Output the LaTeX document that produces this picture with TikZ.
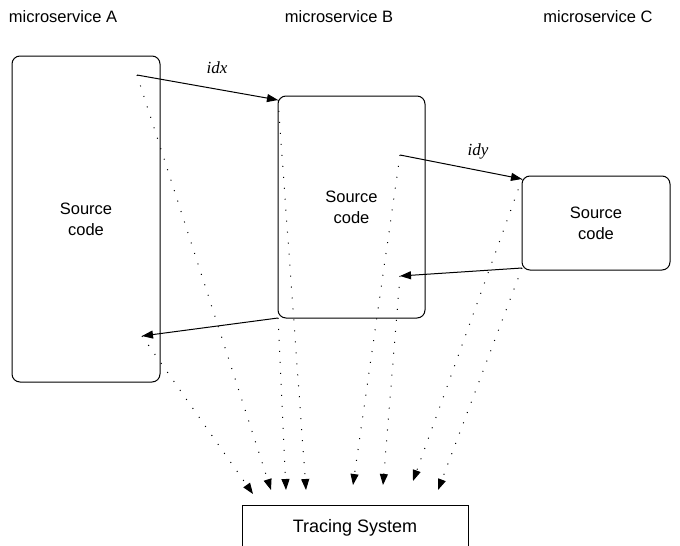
\documentclass[tikz,border=0pt]{standalone}
\usepackage{fontspec}
\setmainfont{Liberation Sans}
\newfontfamily\serifit{Liberation Serif}
\usetikzlibrary{arrows.meta}
\begin{document}
\begin{tikzpicture}[x=1pt,y=-1pt,
  svc/.style={draw,line width=1pt,rounded corners=8pt,inner sep=0pt,align=center,font=\fontsize{16.5}{21}\selectfont},
  title/.style={font=\fontsize{16.5}{19}\selectfont,inner sep=0pt},
  call/.style={line width=1pt,-{Triangle[length=11pt,width=8pt]}},
  trace/.style={line width=1pt,dash pattern=on 1pt off 10pt,-{Triangle[length=11pt,width=8pt,sep=0pt]}},
  idlab/.style={font=\serifit\itshape\fontsize{17}{20}\selectfont,inner sep=0pt}]
\clip (0,0) rectangle (680,546);
\path[use as bounding box] (0,0) rectangle (680,546);
% titles
\node[title] (tA) at (63,17) {microservice A};
\node[title] (tB) at (339,17) {microservice B};
\node[title] (tC) at (598,17) {microservice C};
% boxes
\node[svc,minimum width=148pt,minimum height=326pt] (A) at (86,219) {Source\\code};
\node[svc,minimum width=147pt,minimum height=222pt] (B) at (351.5,207) {Source\\code};
\node[svc,minimum width=148pt,minimum height=94pt] (C) at (596,223) {Source\\code};
\node[draw,line width=0.8pt,minimum width=226pt,minimum height=46pt,inner sep=0pt,font=\fontsize{18}{21}\selectfont] (T) at (355,528) {Tracing System};
% points
\coordinate (a1) at (137,75);
\coordinate (a2) at (142,336);
\coordinate (b1) at (278,100);
\coordinate (b2) at (400,155);
\coordinate (b3) at (400,276);
\coordinate (b4) at (278,318);
\coordinate (c1) at (522,179);
\coordinate (c2) at (522,268);
\coordinate (t1) at (253,494);
\coordinate (t2) at (271,490);
\coordinate (t3) at (286,490);
\coordinate (t4) at (306,490);
\coordinate (t5) at (353,485);
\coordinate (t6) at (383,485);
\coordinate (t7) at (413,481);
\coordinate (t8) at (438,490);
% calls
\draw[call] (a1) -- (b1);
\draw[call] (b2) -- (c1);
\draw[call] (c2) -- (b3);
\draw[call] (b4) -- (a2);
\node[idlab] (lx) at (217,68) {idx};
\node[idlab] (ly) at (478,151) {idy};
% traces
\draw[trace] (a2) -- (t1);
\draw[trace] (a1) -- (t2);
\draw[trace] (b4) -- (t3);
\draw[trace] (b1) -- (t4);
\draw[trace] (b2) -- (t5);
\draw[trace] (b3) -- (t6);
\draw[trace] (c1) -- (t7);
\draw[trace] (c2) -- (t8);
\end{tikzpicture}
\end{document}
